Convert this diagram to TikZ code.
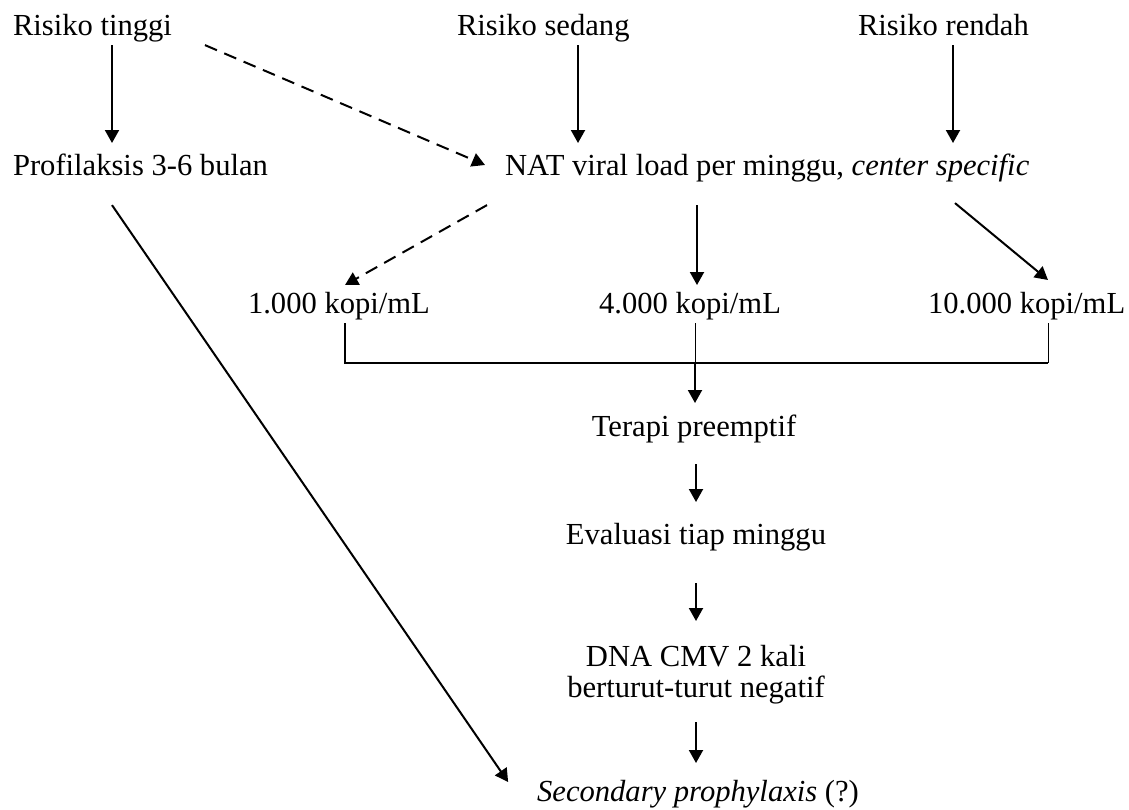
\documentclass[tikz,border=0pt]{standalone}
\usepackage{fontspec}
\setmainfont{Liberation Serif}
\usetikzlibrary{arrows.meta}

\begin{document}
\begin{tikzpicture}[x=0.5pt, y=-0.5pt,
    txt/.style={inner sep=0pt, outer sep=0pt, font=\fontsize{15.3}{15.5}\selectfont},
    lbl/.style={txt, text height=10.7pt, text depth=3.4pt},
    arr/.style={line width=1pt, -{Triangle[length=6.5pt,width=7pt]}},
    darr/.style={arr, dash pattern=on 6.5pt off 4pt},
    thin/.style={line width=0.5pt}]
    \useasboundingbox (0,0) rectangle (1129,809);

    \node[lbl, anchor=base west] (tinggi) at (13,35) {Risiko tinggi};
    \node[lbl, anchor=base west] (sedang) at (457,35) {Risiko sedang};
    \node[lbl, anchor=base west] (rendah) at (858,35) {Risiko rendah};

    \node[lbl, anchor=base west] (prof) at (13,175) {Profilaksis 3-6 bulan};
    \node[lbl, anchor=base west] (nat) at (505,175) {NAT viral load per minggu, \textit{center specific}};

    \node[lbl, anchor=base west] (k1) at (248,313) {1.000 kopi/mL};
    \node[lbl, anchor=base] (k4) at (690,313) {4.000 kopi/mL};
    \node[lbl, anchor=base west] (k10) at (928,313) {10.000 kopi/mL};

    \node[lbl, anchor=base] (terapi) at (694,436) {Terapi preemptif};
    \node[lbl, anchor=base] (eval) at (696,544) {Evaluasi tiap minggu};
    \node[txt, anchor=north, align=center] (dna) at (696,645) {DNA CMV 2 kali\\berturut-turut negatif};
    \node[lbl, anchor=base] (sec) at (698,801) {\textit{Secondary prophylaxis} (?)};

    % risk groups
    \draw[arr, shorten <=1.65pt, shorten >=5.3pt] ([xshift=49.5pt]tinggi.south west) -- ([xshift=49.5pt]tinggi.south west |- prof.north);
    \draw[arr, shorten <=1.65pt, shorten >=5.3pt] ([xshift=60.5pt]sedang.south west) -- ([xshift=60.5pt]sedang.south west |- nat.north);
    \draw[arr, shorten <=1.65pt, shorten >=5.3pt] ([xshift=47.5pt]rendah.south west) -- ([xshift=47.5pt]rendah.south west |- nat.north);
    \draw[darr] ([shift={(33,3.3)}]tinggi.south east) -- ([shift={(-20,-10)}]nat.base west);

    % viral load thresholds
    \draw[darr] ([shift={(-18,23.3)}]nat.south west) -- ([shift={(97,-6.6)}]k1.north west);
    \draw[arr, shorten <=11.65pt, shorten >=3.3pt] ([xshift=96pt]nat.south west) -- ([xshift=96pt]nat.south west |- k4.north);
    \draw[arr] ([shift={(450,21.3)}]nat.south west) -- ([shift={(120,-11.6)}]k10.north west);

    \coordinate (join) at ([shift={(5,43.3)}]k4.south);
    \coordinate (rtick) at ([shift={(120,3.3)}]k10.south west);
    \draw[line width=1pt] ([shift={(97,3.3)}]k1.south west) |- (join) -- (join -| rtick);
    \draw[thin] ([shift={(5,3.3)}]k4.south) -- (join);
    \draw[thin] (rtick) -- (join -| rtick);
    \draw[arr, shorten >=5.8pt] (join) -- (join |- terapi.north);

    % follow-up
    \draw[arr, shorten <=10.65pt, shorten >=10.3pt] (terapi.south -| eval.south) -- (eval.north);
    \draw[arr, shorten <=16.15pt, shorten >=12pt] (eval.south) -- (dna.north);
    \draw[arr, shorten <=9.2pt, shorten >=8.3pt] (dna.south) -- (dna.south |- sec.north);
    \draw[arr] ([shift={(99,23.3)}]prof.south west) -- ([shift={(-29,-19)}]sec.base west);
\end{tikzpicture}
\end{document}
